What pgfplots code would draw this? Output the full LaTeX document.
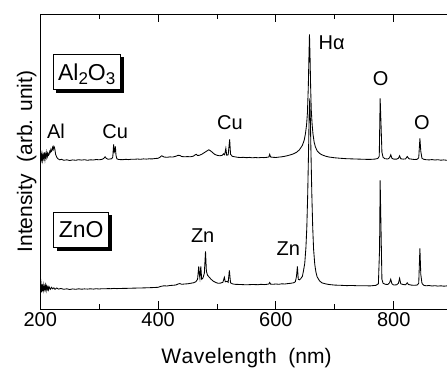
\documentclass[border=0pt]{standalone}
\usepackage{fontspec}
\setmainfont{Liberation Sans}
\usepackage{pgfplots}
\pgfplotsset{compat=1.18}
\usetikzlibrary{shadows}
\newcommand\fs{\fontsize{20}{24}\selectfont}
\newcommand\fl{\fontsize{21}{25}\selectfont}
\newcommand\fb{\fontsize{23}{27}\selectfont}
\newcommand\sub[1]{\raisebox{-4.5pt}{\fontsize{17}{17}\selectfont #1}}

\pgfplotstableread{
x y
200 152
201 156
202 150
203 155
204 149
205 154
206 151
207 157
208 150
209 155
210 152
211 157
212 153
213 156
214 154
215 155
216 158
217 157
218 160
219 158
220 159
221 162
222 160
223 163
224 162
225 159
226 155
228 152
230 150.5
233 149.5
236 150
240 149
245 149.5
250 148.8
255 149.4
260 149
265 149.6
270 149.2
275 149.6
280 149
285 149.5
290 149.3
295 149.8
300 149.5
305 150
308 151
310 152.5
312 151
315 150
318 150.3
321 150.5
323 152
324.5 165
325.5 157
326.5 158
327.5 163
328.5 154
330 150.5
333 149.8
340 149.6
345 150
350 149.7
355 150.1
360 150
365 150.3
370 150
375 150.4
380 150.2
385 150.5
390 150.4
395 150.8
400 151
403 152
406 153.5
408 153
410 152.3
415 152
420 152.4
425 152.3
430 153
434 154
437 153.8
440 152.8
445 152.5
450 152.7
455 152.5
460 153.2
463 154.5
465 155
467 153.8
470 154
474 155
478 156.5
482 158
486 159.5
489 158.5
492 157
496 155
500 154
505 153.5
509 154
511 155.5
513 154.5
515 161
516.5 154
519 154.5
521.5 170
523 155
526 153
530 152.5
535 152
540 151.8
545 152
550 151.6
555 151.9
560 151.5
565 151.8
570 151.5
575 151.8
580 151.7
585 152
588 152.3
589.5 155
591 152.3
595 152
600 151.8
605 152.2
610 152.5
615 153
620 153.7
625 154.5
630 155.5
635 157
640 159.5
645 164
648 169
650 175
652 184
653.5 196
655 222
656 250
657 275
658 252
659 222
660 200
661.5 185
663 175
665 167
667 162.5
670 158.5
674 156
678 154.5
684 153.2
690 152.3
700 151.5
710 151
720 150.6
730 150.4
740 150.2
750 150
760 149.9
768 150.2
773 150.8
775.5 153
777 211
778.5 185
780 157
782 152
785 150.6
790 150.3
793 151.5
795 154.5
797 151
800 150.2
805 150.2
808 151
810 153.5
812 150.5
816 150.2
820 150.3
823 152.8
826 150.5
830 150.2
835 149.8
840 150
842.5 151.5
844.5 171
846 158
848 151
851 150
855 149.6
860 149.4
865 149.7
870 149.3
875 149.6
880 149.1
885 149.4
890 149
895 149.3
900 149
}\alo

\pgfplotstableread{
x y
200 24
201 27
202 17
203 25
204 18
205 24
206 19
207 23
208 20
209 24
210 19
211 23
212 20
213 22
214 19.5
215 22.5
217 20
219 22
221 20.5
223 21.5
225 20
228 21.3
231 20.2
235 20.8
240 20
245 20.5
250 19.8
255 20.4
260 20
265 20.5
270 20.1
275 20.4
280 20.2
285 20.5
290 20.2
295 20.6
300 20.3
305 20.6
310 20.5
315 20.7
320 20.6
325 20.9
330 20.7
340 20.9
350 21
360 21.2
370 21.3
380 21.5
390 21.7
400 22
405 23
410 23.5
415 23.3
420 23.8
425 24
430 24.3
435 25.5
437 25.7
440 25
445 25.3
450 25.5
455 26
460 26.5
464 27.5
467 30
469 43
470 35
471 31
472.5 43
474 30
476 31
478.5 36
480.5 58
482 38
484 34
487 32
490 30
494 28
498 26.8
502 26
506 26.2
510 27
512.5 32
514 27.5
517 28
519 27
521 39
523 26.5
526 25.5
530 25
540 24.8
550 24.5
560 24.8
570 24.6
575 25
580 24.7
585 25
588 25.3
589.5 26.8
591 25.2
595 25
600 25.3
605 25
610 25.5
615 25.3
620 25.7
625 26
630 26.5
633 27.5
635 33
636.5 43
638 30
640 29.5
642 30.5
645 33
647 39
649 46
651 62
652.5 82
654 115
655.5 160
656.5 195
657.5 211
658.5 190
659.5 158
661 115
662.5 82
664 60
666 45
668 37
670 32.5
674 28.5
678 26.5
684 25.5
690 24.8
700 24.2
710 24
720 23.7
730 23.8
740 23.5
750 23.6
760 23.4
770 24
774 25.5
776 60
777 129
778.5 80
780 30
782 26
786 25
790 24.8
793 26.5
795 30
797 25.5
800 24.3
805 24.5
808 26
810 31
812 25.5
816 24.8
820 24.5
823 26.5
825 24.8
830 24.2
835 24
840 24.3
842.5 26
844.5 61
846 35
848 26
851 24
855 23.5
860 23.8
865 23.3
870 23.6
875 23.2
880 23.5
885 23.1
890 23.4
895 23
900 23.2
}\zno

\begin{document}
\begin{tikzpicture}[
  boxlab/.style={draw, fill=white, line width=0.8pt, font=\fb,
     text height=16.5pt, text depth=0pt, inner ysep=9.5pt, inner xsep=5pt,
     drop shadow={shadow xshift=3.3pt, shadow yshift=-3.3pt, fill=black, opacity=1}},
  lab/.style={font=\fs, anchor=base, inner sep=0pt},
]
\useasboundingbox (-40.3pt,-57.7pt) rectangle (406.7pt,309.3pt);
\clip (-40.3pt,-57.7pt) rectangle (406.7pt,309.3pt);
\begin{axis}[
  at={(0,0)}, anchor=south west,
  scale only axis, width=412.3pt, height=295.3pt,
  xmin=200, xmax=900, ymin=0, ymax=295.3,
  xtick={200,400,600,800}, minor xtick={300,500,700,900},
  ytick=\empty,
  tick align=inside,
  major tick length=8pt, minor tick length=5pt,
  axis line style={line width=0.8pt},
  every tick/.append style={line width=0.8pt, black},
  /pgf/number format/assume math mode=true,
  /pgf/number format/1000 sep={},
  tick label style={font=\fs},
  xlabel={W\kern0.5pt a\kern0.5pt v\kern0.5pt e\kern0.5pt l\kern0.5pt e\kern0.5pt n\kern0.5pt g\kern0.5pt t\kern0.5pt h\ \ (nm)},
  ylabel={Intensity\ \ (arb. unit)},
  label style={font=\fl},
  xlabel style={at={(axis description cs:0.5,0)}, anchor=base, yshift=-54pt},
  ylabel style={at={(axis description cs:-0.0201,0.5)}, anchor=base},
]
\addplot[black, line width=0.85pt] table[x=x,y=y] {\alo};
\addplot[black, line width=0.85pt] table[x=x,y=y] {\zno};
\node[boxlab] at (axis cs:278.8,237.5) {Al\sub{2}O\sub{3}};
\node[boxlab] at (axis cs:269.4,79.6) {ZnO};
\node[lab] at (axis cs:226.6,171) {Al};
\node[lab] at (axis cs:327,171) {Cu};
\node[lab] at (axis cs:522,180) {Cu};
\node[lab] at (axis cs:694.8,260) {Hα};
\node[lab] at (axis cs:778,223.6) {O};
\node[lab] at (axis cs:848,180) {O};
\node[lab] at (axis cs:475.7,66.6) {Zn};
\node[lab] at (axis cs:621,54.3) {Zn};
\end{axis}
\end{tikzpicture}
\end{document}
